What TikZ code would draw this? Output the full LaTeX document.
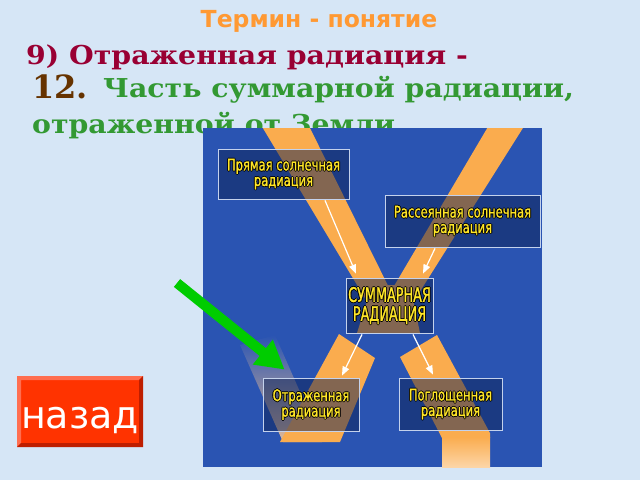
\documentclass[tikz,border=0pt]{standalone}
\usepackage{fontspec}
\setmainfont[FakeStretch=1.09]{DejaVu Serif}
\newfontfamily\headfont{DejaVu Sans}
\newfontfamily\numfont{DejaVu Serif}
\newfontfamily\boxfont[FakeStretch=0.72,FakeBold=1.2]{DejaVu Sans}
\newfontfamily\sumfont[FakeStretch=0.64,FakeBold=1.2]{DejaVu Sans}
\usetikzlibrary{arrows.meta,calc}

\definecolor{paper}{RGB}{214,230,246}
\definecolor{imgblue}{RGB}{42,84,178}
\definecolor{beam}{RGB}{250,172,78}
\definecolor{navy}{RGB}{14,34,84}
\definecolor{edge}{RGB}{196,210,236}
\definecolor{gold}{RGB}{255,230,40}
\definecolor{termcol}{RGB}{255,153,51}
\definecolor{defcol}{RGB}{153,0,51}
\definecolor{numcol}{RGB}{102,51,0}
\definecolor{anscol}{RGB}{51,153,51}
\definecolor{arrowgreen}{RGB}{0,204,0}
\definecolor{btnred}{RGB}{255,51,0}
\definecolor{btnlight}{RGB}{255,110,80}
\definecolor{btndark}{RGB}{190,30,0}

% yellow caption with a dark rim
\newcommand{\rim}[1]{\rlap{\color{black}\hspace{-0.9pt}#1}\rlap{\color{black}\hspace{0.9pt}#1}\rlap{\color{black}\raisebox{0.9pt}{#1}}\rlap{\color{black}\raisebox{-0.9pt}{#1}}#1}

\begin{document}
\begin{tikzpicture}[x=1pt,y=-1pt,
    box/.style={draw=edge,line width=0.8pt,fill=navy,fill opacity=0.5,text opacity=1,text=gold,inner sep=0pt,align=center,font=\boxfont\fontsize{16}{15.5}\selectfont},
    ray/.style={draw=white,line width=1.2pt,-{Triangle[length=9pt,width=7pt]}}]
    \fill[paper](0,0)rectangle(640,480);
    % heading
    \node[anchor=base,inner sep=0pt,text=termcol,font=\headfont\bfseries\fontsize{23.5}{23.5}\selectfont](term)at(319,27.3){Термин - понятие};
    \node[anchor=base west,inner sep=0pt,text=defcol,font=\bfseries\fontsize{26}{26}\selectfont](defn)at(26,64){9) Отраженная радиация -};
    \node[anchor=base west,inner sep=0pt,text=numcol,font=\numfont\bfseries\fontsize{32}{32}\selectfont](num)at(32,98.3){12.};
    \node[anchor=base west,inner sep=0pt,text=anscol,font=\bfseries\fontsize{26}{26}\selectfont](ans1)at(103,97.3){Часть суммарной радиации,};
    \node[anchor=base west,inner sep=0pt,text=anscol,font=\bfseries\fontsize{26}{26}\selectfont](ans2)at(32,133){отраженной от Земли.};
    % picture
    \fill[imgblue](203,128)rectangle(542,467);
    \begin{scope}
        \clip(203,128)rectangle(542,467);
        \fill[beam](258,120)--(306,120)--(405,320)--(378,320)--cycle;
        \fill[beam](492,120)--(528,120)--(402,320)--(374,320)--cycle;
        \fill[beam](372,285)--(410,285)--(420,333)--(357,333)--cycle;
        \shade[top color=imgblue,middle color={rgb,255:red,168;green,160;blue,198},bottom color={rgb,255:red,225;green,185;blue,150}](240,345)--(275,335)--(322,442)--(283,442)--cycle;
        \fill[beam](339,334)--(375,358)--(340,442)--(280,442)--cycle;
        \fill[beam](400,357)--(437,335)--(490,433)--(490,438)--(442,438)--cycle;
        \shade[top color=beam,bottom color=beam!50!white](442,437)rectangle(490,467);
    \end{scope}
    % boxes
    \node[box,minimum width=131pt,minimum height=50pt](prjam)at(283.5,174){\rim{Прямая солнечная}\\\rim{радиация}};
    \node[box,minimum width=155pt,minimum height=52pt](rass)at(462.5,221){\rim{Рассеянная солнечная}\\\rim{радиация}};
    \node[box,minimum width=87pt,minimum height=55pt,font=\sumfont\fontsize{20}{19}\selectfont](summ)at(389.5,305.5){\rim{СУММАРНАЯ}\\\rim{РАДИАЦИЯ}};
    \node[box,minimum width=96pt,minimum height=53pt](otr)at(311,404.5){\rim{Отраженная}\\\rim{радиация}};
    \node[box,minimum width=103pt,minimum height=52pt](pogl)at(450.5,404){\rim{Поглощенная}\\\rim{радиация}};
    \draw[ray]($(prjam.south)+(41.5,1)$)--($(summ.north)+(-33.5,-4)$);
    \draw[ray]($(rass.south)+(-27.5,1)$)--($(summ.north)+(33.5,-4)$);
    \draw[ray]($(summ.south)+(-27.5,1)$)--($(otr.north)+(31,-2)$);
    \draw[ray]($(summ.south)+(23.5,1)$)--($(pogl.north)+(-17.5,-3)$);
    % green pointer
    \coordinate(gtail)at(177,283);
    \coordinate(gtip)at($(otr.north west)+(22,-8)$);
    \draw[arrowgreen,line width=10pt,-{Triangle[length=28pt,width=30pt]}](gtail)--(gtip);
    % back button
    \fill[btnred](17,376)rectangle(143,447);
    \fill[btnlight](17,376)--(143,376)--(139,380)--(21,380)--(21,443)--(17,447)--cycle;
    \fill[btndark](143,376)--(143,447)--(17,447)--(21,443)--(139,443)--(139,380)--cycle;
    \node[anchor=base,inner sep=0pt,text=white,font=\headfont\fontsize{38}{38}\selectfont](nazad)at(80,428){назад};
\end{tikzpicture}
\end{document}
